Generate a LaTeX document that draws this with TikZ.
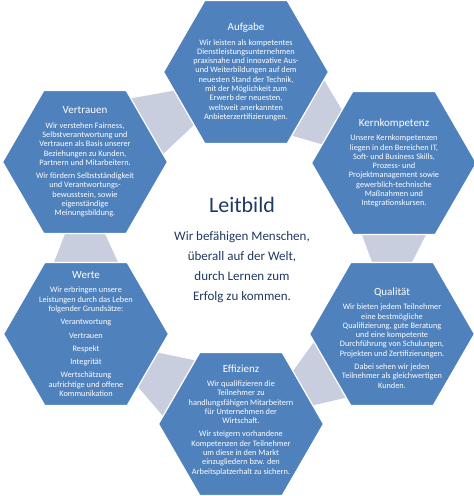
\documentclass[tikz,border=0pt]{standalone}
\usepackage{fontspec}
\setmainfont{Carlito}
\usetikzlibrary{shapes.geometric,calc}

\definecolor{hexblue}{RGB}{79,129,189}
\definecolor{linkgray}{RGB}{200,206,222}
\definecolor{leitnavy}{RGB}{31,56,100}

\newcommand\hexR{82.5}
\newcommand\hexhead[1]{{\fontsize{11}{13}\selectfont #1}}
% grey bar between two hexagons, wide at the first one
\newcommand\linkbar[3]{%
	\path (#1) +({#3-30}:\hexR) coordinate (p1) +({#3+30}:\hexR) coordinate (p2);
	\path (#2) +({#3+210}:\hexR) coordinate (q1) +({#3+150}:\hexR) coordinate (q2);
	\fill[linkfill] ($(p1)!0.11!(p2)$) -- ($(p1)!0.89!(p2)$) -- ($(q1)!0.74!(q2)$) -- ($(q1)!0.26!(q2)$) -- cycle;
}

\begin{document}
\begin{tikzpicture}[x=1pt,y=1pt,
	hexa/.style={regular polygon, regular polygon sides=6, minimum size=165pt, inner sep=0pt, outer sep=0pt, fill=hexblue, draw=white, line width=1.2pt},
	hextext/.style={text=white, align=center, inner sep=0pt, font=\fontsize{8.3}{9.3}\selectfont},
	linkfill/.style={fill=linkgray},
	leittext/.style={text=leitnavy, align=center, inner sep=0pt}]
	
	\useasboundingbox (0,0) rectangle (474,-496);
	
	% hexagon centres
	\coordinate (auf) at (246,-72);
	\coordinate (kern) at (394,-163);
	\coordinate (qual) at (392,-334);
	\coordinate (eff) at (241,-424);
	\coordinate (werte) at (86,-334);
	\coordinate (vert) at (85,-162);
	
	\linkbar{auf}{kern}{-30}
	\linkbar{kern}{qual}{-90}
	\linkbar{qual}{eff}{210}
	\linkbar{eff}{werte}{150}
	\linkbar{werte}{vert}{90}
	\linkbar{vert}{auf}{30}
	
	\node[hexa] (auf-hex) at (auf) {};
	\node[hexa] (kern-hex) at (kern) {};
	\node[hexa] (qual-hex) at (qual) {};
	\node[hexa] (eff-hex) at (eff) {};
	\node[hexa] (werte-hex) at (werte) {};
	\node[hexa] (vert-hex) at (vert) {};
	
	\node[hextext] (auf-txt) at (auf) {\hexhead{Aufgabe}\\[5pt]
		Wir leisten als kompetentes\\ Dienstleistungsunternehmen\\ praxisnahe und innovative Aus-\\
		und Weiterbildungen auf dem\\ neuesten Stand der Technik,\\ mit der Möglichkeit zum\\
		Erwerb der neuesten,\\ weltweit anerkannten\\ Anbieterzertifizierungen.};
	
	\node[hextext] (kern-txt) at (kern) {\hexhead{Kernkompetenz}\\[5pt]
		Unsere Kernkompetenzen\\ liegen in den Bereichen IT,\\ Soft- und Business Skills,\\
		Prozess- und\\ Projektmanagement sowie\\ gewerblich-technische\\ Maßnahmen und\\ Integrationskursen.};
	
	\node[hextext] (qual-txt) at ([yshift=-4pt]qual) {\hexhead{Qualität}\\[5pt]
		Wir bieten jedem Teilnehmer\\ eine bestmögliche\\ Qualifizierung, gute Beratung\\
		und eine kompetente\\ Durchführung von Schulungen,\\ Projekten und Zertifizierungen.\\[4pt]
		Dabei sehen wir jeden\\ Teilnehmer als gleichwertigen\\ Kunden.};
	
	\node[hextext] (eff-txt) at ([yshift=4pt]eff) {\hexhead{Effizienz}\\[5pt]
		Wir qualifizieren die\\ Teilnehmer zu\\ handlungsfähigen Mitarbeitern\\ für Unternehmen der\\ Wirtschaft.\\[4pt]
		Wir steigern vorhandene\\ Kompetenzen der Teilnehmer\\ um diese in den Markt\\
		einzugliedern bzw. den\\ Arbeitsplatzerhalt zu sichern.};
	
	\node[hextext] (werte-txt) at (werte) {\hexhead{Werte}\\[5pt]
		Wir erbringen unsere\\ Leistungen durch das Leben\\ folgender Grundsätze:\\[4pt]
		Verantwortung\\[4pt] Vertrauen\\[4pt] Respekt\\[4pt] Integrität\\[4pt]
		Wertschätzung\\ aufrichtige und offene\\ Kommunikation};
	
	\node[hextext] (vert-txt) at (vert) {\hexhead{Vertrauen}\\[5pt]
		Wir verstehen Fairness,\\ Selbstverantwortung und\\ Vertrauen als Basis unserer\\
		Beziehungen zu Kunden,\\ Partnern und Mitarbeitern.\\[4pt]
		Wir fördern Selbstständigkeit\\ und Verantwortungs-\\ bewusstsein, sowie\\ eigenständige\\ Meinungsbildung.};
	
	% centre
	\node[leittext, font=\fontsize{22}{26}\selectfont] (leit-titel) at (242,-205) {Leitbild};
	\node[leittext, font=\fontsize{13}{20}\selectfont] (leit-txt) at (242,-267) {Wir befähigen Menschen,\\ überall auf der Welt,\\ durch Lernen zum\\ Erfolg zu kommen.};
	
\end{tikzpicture}
\end{document}
